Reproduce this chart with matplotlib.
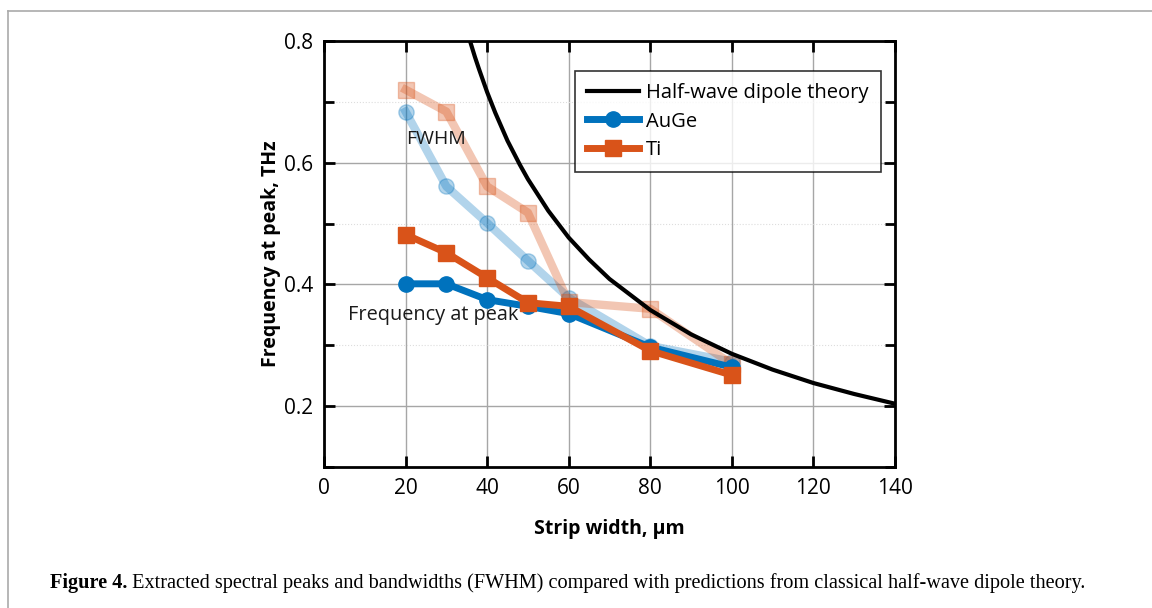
import matplotlib
matplotlib.use("Agg")
import matplotlib.pyplot as plt
from matplotlib.lines import Line2D
from matplotlib.transforms import IdentityTransform
from matplotlib.ticker import MultipleLocator

plt.rcParams['font.family'] = ['Open Sans', 'DejaVu Sans']

# strip widths (um)
width = [20, 30, 40, 50, 60, 80, 100]

# frequency at peak, THz
auge_peak = [0.401, 0.401, 0.375, 0.364, 0.352, 0.297, 0.264]
ti_peak = [0.482, 0.452, 0.411, 0.370, 0.364, 0.291, 0.251]

# FWHM, THz
auge_fwhm = [0.684, 0.561, 0.501, 0.439, 0.378, 0.299, 0.273]
ti_fwhm = [0.720, 0.684, 0.561, 0.518, 0.371, 0.360, 0.269]

# half-wave dipole theory
theory_x = [35.8, 37, 38, 40, 42, 45, 48, 50, 55, 60, 65, 70, 80, 90, 100, 110, 120, 130, 140]
theory_y = [0.800, 0.774, 0.754, 0.716, 0.682, 0.636, 0.597, 0.573, 0.521, 0.477,
            0.441, 0.409, 0.358, 0.318, 0.286, 0.260, 0.238, 0.220, 0.204]

blue = '#0072BD'
orange = '#D95319'

fig = plt.figure(figsize=(11.52, 6.08), dpi=100)
ax = fig.add_axes([0.28125, 0.2319, 0.4956, 0.7007])

# page frame (top and left edges)
fig.add_artist(Line2D([8 / 1152, 1.0], [1 - 11 / 608] * 2, color='#aaaaaa', lw=1.2))
fig.add_artist(Line2D([8 / 1152] * 2, [0.0, 1 - 11 / 608], color='#aaaaaa', lw=1.2))

ax.plot(width, auge_fwhm, color=blue, alpha=0.3, lw=6, marker='o', ms=11, zorder=2)
ax.plot(width, ti_fwhm, color=orange, alpha=0.33, lw=6, marker='s', ms=12, zorder=2)
ax.plot(theory_x, theory_y, color='black', lw=3, label='Half-wave dipole theory', zorder=3)
ax.plot(width, auge_peak, color=blue, lw=5, marker='o', ms=11, label='AuGe', zorder=4)
ax.plot(width, ti_peak, color=orange, lw=5, marker='s', ms=12, label='Ti', zorder=5)

ax.text(20.2, 0.639, 'FWHM', fontsize=14, va='center', ha='left', color='#1a1a1a')
ax.text(6.0, 0.349, 'Frequency at peak', fontsize=14.3, va='center', ha='left', color='#1a1a1a')

ax.set_xlim(0, 140)
ax.set_ylim(0.1, 0.8)
ax.set_xticks([0, 20, 40, 60, 80, 100, 120, 140])
ax.set_yticks([0.2, 0.4, 0.6, 0.8])
ax.yaxis.set_minor_locator(MultipleLocator(0.1))
ax.grid(True, which='major', color='#a6a6a6', lw=1.0)
ax.grid(True, which='minor', axis='y', color='#dddddd', lw=0.8, ls=':')
ax.set_axisbelow(True)
ax.tick_params(which='major', direction='in', length=8, width=2, top=True, right=True,
               labelsize=15, pad=8, colors='black')
ax.tick_params(which='minor', direction='in', length=7, width=2, top=False, right=True)
ax.tick_params(axis='x', which='minor', bottom=False)
for s in ax.spines.values():
    s.set_linewidth(2)

ax.set_xlabel('Strip width, µm', fontsize=14, fontweight='bold', labelpad=14)
ax.set_ylabel('Frequency at peak, THz', fontsize=14, fontweight='bold', labelpad=2)

leg = ax.legend(loc='upper right', bbox_to_anchor=(0.9755, 0.9296), fontsize=14.5, frameon=True,
                fancybox=False, edgecolor='black', handlelength=2.6, borderpad=0.6,
                labelspacing=0.42, handletextpad=0.35, borderaxespad=0)
leg.get_frame().set_linewidth(1.2)

cap1 = fig.text(50 / 1152, 1 - 583 / 608, 'Figure 4.', fontsize=14.6, family='Liberation Serif',
                fontweight='bold', va='center', ha='left')
cap2 = fig.text(0, 0, ' Extracted spectral peaks and bandwidths (FWHM) compared with predictions '
                'from classical half-wave dipole theory.', fontsize=14.6, family='Liberation Serif',
                va='center', ha='left')

# place the second part right after the bold part
fig.canvas.draw()
bb = cap1.get_window_extent()
cap2.set_transform(IdentityTransform())
cap2.set_position((bb.x1, (bb.y0 + bb.y1) / 2))

fig.savefig('out.png', dpi=100)
